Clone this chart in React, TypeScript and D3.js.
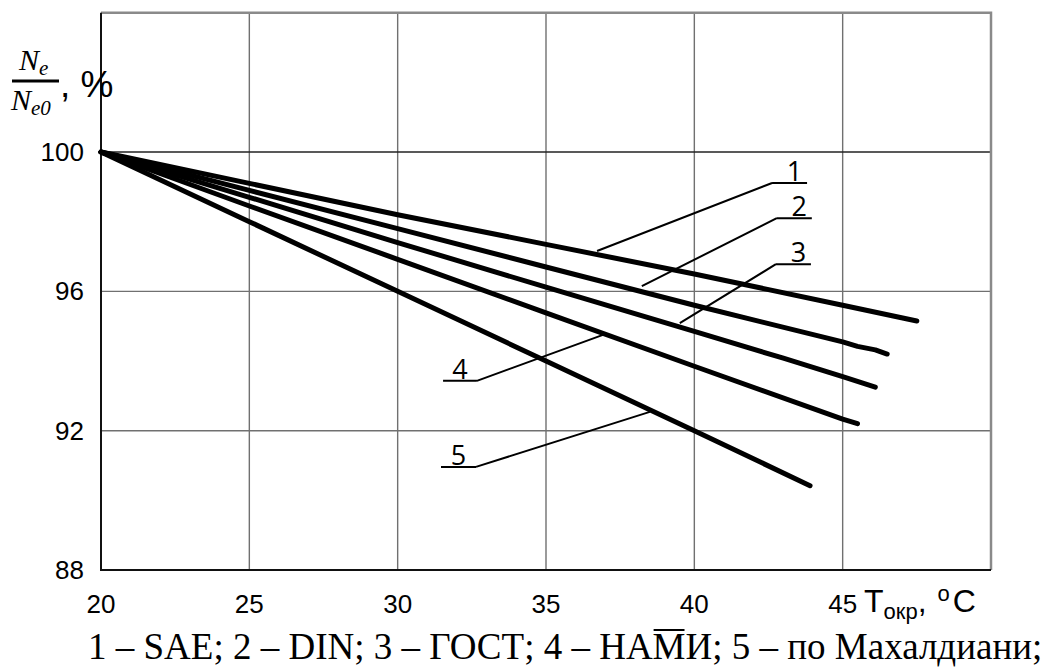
import React, { useEffect, useRef } from 'react'
import * as d3 from 'd3'

// Ne/Ne0 (%) vs ambient temperature
const sae: [number, number][] = [[20, 100], [25, 99.1], [30, 98.2], [35, 97.35], [40, 96.5], [45, 95.6], [47.5, 95.15]]
const din: [number, number][] = [[20, 100], [25, 98.9], [30, 97.8], [35, 96.7], [40, 95.6], [45, 94.55], [45.5, 94.42], [46.1, 94.32], [46.5, 94.2]]
const gost: [number, number][] = [[20, 100], [25, 98.7], [30, 97.4], [35, 96.12], [40, 94.85], [43, 94.08], [45, 93.55], [46.1, 93.25]]
const nami: [number, number][] = [[20, 100], [25, 98.45], [30, 96.92], [35, 95.38], [40, 93.85], [45, 92.33], [45.5, 92.2]]
const makhaldiani: [number, number][] = [[20, 100], [25, 98], [30, 96], [35, 94], [40, 92], [43.9, 90.42]]

const xTicks = [20, 25, 30, 35, 40, 45]
const yTicks = [88, 92, 96, 100]

// callout: label, underline from x0 to x1 at level y, leader to (tx, ty)
const callouts = [
  { label: '1', x0: 42.62, x1: 43.8, y: 99.11, tx: 36.72, ty: 97.16, from: 'left' },
  { label: '2', x0: 42.78, x1: 43.96, y: 98.1, tx: 38.23, ty: 96.15, from: 'left' },
  { label: '3', x0: 42.75, x1: 43.93, y: 96.78, tx: 39.51, ty: 95.09, from: 'left' },
  { label: '4', x0: 31.53, x1: 32.67, y: 93.43, tx: 36.92, ty: 94.75, from: 'right' },
  { label: '5', x0: 31.46, x1: 32.64, y: 90.96, tx: 38.5, ty: 92.54, from: 'right' },
]

const caption = '1 – SAE; 2 – DIN; 3 – ГОСТ; 4 – НАМИ; 5 – по Махалдиани;'

const W = 1052, H = 671

export default function App() {
  const ref = useRef<SVGSVGElement>(null)

  useEffect(() => {
    const svg = d3.select(ref.current)
    svg.selectAll('*').remove()

    const x = d3.scaleLinear().domain([20, 50]).range([101, 991])
    const y = d3.scaleLinear().domain([88, 104]).range([570, 12.7])

    const grid = svg.append('g')
    grid.selectAll('line.v')
      .data(xTicks.slice(1))
      .enter().append('line')
        .attr('x1', d => x(d)).attr('x2', d => x(d))
        .attr('y1', y(104)).attr('y2', y(88))
        .attr('stroke', '#707070').attr('stroke-width', 1.4)
    grid.selectAll('line.h')
      .data(yTicks.slice(1))
      .enter().append('line')
        .attr('x1', x(20)).attr('x2', x(50))
        .attr('y1', d => y(d)).attr('y2', d => y(d))
        .attr('stroke', d => d === 100 ? '#222' : '#707070').attr('stroke-width', 1.4)

    // frame: gray top/right, black axes
    svg.append('path')
      .attr('d', `M${x(20)},${y(104)}H${x(50)}V${y(88)}`)
      .attr('fill', 'none').attr('stroke', '#8a8a8a').attr('stroke-width', 2.5)
    svg.append('path')
      .attr('d', `M${x(20)},${y(104)}V${y(88)}H${x(50)}`)
      .attr('fill', 'none').attr('stroke', '#111').attr('stroke-width', 2)

    svg.append('g')
      .selectAll('text')
      .data(xTicks)
      .enter().append('text')
        .attr('x', d => x(d)).attr('y', 613)
        .attr('text-anchor', 'middle')
        .style('font', '26px "Liberation Sans", Arial, sans-serif')
        .text(d => d)

    svg.append('g')
      .selectAll('text')
      .data(yTicks)
      .enter().append('text')
        .attr('x', 84).attr('y', d => y(d) + 9)
        .attr('text-anchor', 'end')
        .style('font', '26px "Liberation Sans", Arial, sans-serif')
        .text(d => d)

    const line = d3.line<[number, number]>()
      .x(d => x(d[0]))
      .y(d => y(d[1]))

    svg.append('g')
      .selectAll('path')
      .data([sae, din, gost, nami, makhaldiani])
      .enter().append('path')
        .attr('d', d => line(d))
        .attr('fill', 'none')
        .attr('stroke', '#000')
        .attr('stroke-width', 5)
        .attr('stroke-linecap', 'round')
        .attr('stroke-linejoin', 'round')

    const co = svg.append('g')
    callouts.forEach(c => {
      const sx = c.from === 'left' ? x(c.x0) : x(c.x1)
      co.append('path')
        .attr('d', `M${x(c.x0)},${y(c.y)}H${x(c.x1)}M${sx},${y(c.y)}L${x(c.tx)},${y(c.ty)}`)
        .attr('fill', 'none').attr('stroke', '#000').attr('stroke-width', 2)
      co.append('text')
        .attr('x', (x(c.x0) + x(c.x1)) / 2 + (c.from === 'left' ? 5 : 0))
        .attr('y', y(c.y) - 2)
        .attr('text-anchor', 'middle')
        .style('font', '27px "Open Sans", "Liberation Sans", sans-serif')
        .text(c.label)
    })

    // y axis title: Ne / Ne0, %
    const yt = svg.append('g').style('font-family', '"Liberation Serif", serif').style('font-style', 'italic')
    const num = yt.append('text').attr('x', 19).attr('y', 70).style('font-size', '30px')
    num.append('tspan').text('N')
    num.append('tspan').attr('dy', 5).style('font-size', '21px').text('e')
    yt.append('line')
      .attr('x1', 12).attr('x2', 59).attr('y1', 81).attr('y2', 81)
      .attr('stroke', '#000').attr('stroke-width', 3)
    const den = yt.append('text').attr('x', 11).attr('y', 110).style('font-size', '30px')
    den.append('tspan').text('N')
    den.append('tspan').attr('dy', 5).style('font-size', '21px').text('e0')
    svg.append('text')
      .attr('x', 60).attr('y', 97)
      .style('font', '37px "Liberation Sans", Arial, sans-serif')
      .text(', %')

    // x axis title: T_окр, °C
    const xt = svg.append('text')
      .attr('x', 864).attr('y', 612)
      .style('font', '32px "Liberation Sans", Arial, sans-serif')
    xt.append('tspan').text('T')
    xt.append('tspan').attr('dy', 7).style('font-size', '22px').text('окр')
    xt.append('tspan').attr('dy', -7).text(',')
    xt.append('tspan').attr('dx', 11).attr('dy', -11).style('font-size', '22px').text('o')
    xt.append('tspan').attr('dx', 3).attr('dy', 11).text('C')

    // caption, with the bar over "М" in НАМИ
    const capY = 659
    const cap = svg.append('text')
      .attr('x', 88).attr('y', capY)
      .style('font', '37px "Liberation Serif", "Times New Roman", serif')
      .text(caption)
    const node = cap.node() as SVGTextElement
    const mi = caption.indexOf('НАМИ') + 2
    const p = node.getStartPositionOfChar(mi)
    const w = node.getSubStringLength(mi, 1)
    svg.append('line')
      .attr('x1', p.x + 1).attr('x2', p.x + w - 1)
      .attr('y1', capY - 29).attr('y2', capY - 29)
      .attr('stroke', '#000').attr('stroke-width', 2)
  }, [])

  return (
    <svg
      ref={ref}
      width={W}
      height={H}
      style={{ position: 'absolute', left: 0, top: 0, background: '#fff' }}
    />
  )
}
